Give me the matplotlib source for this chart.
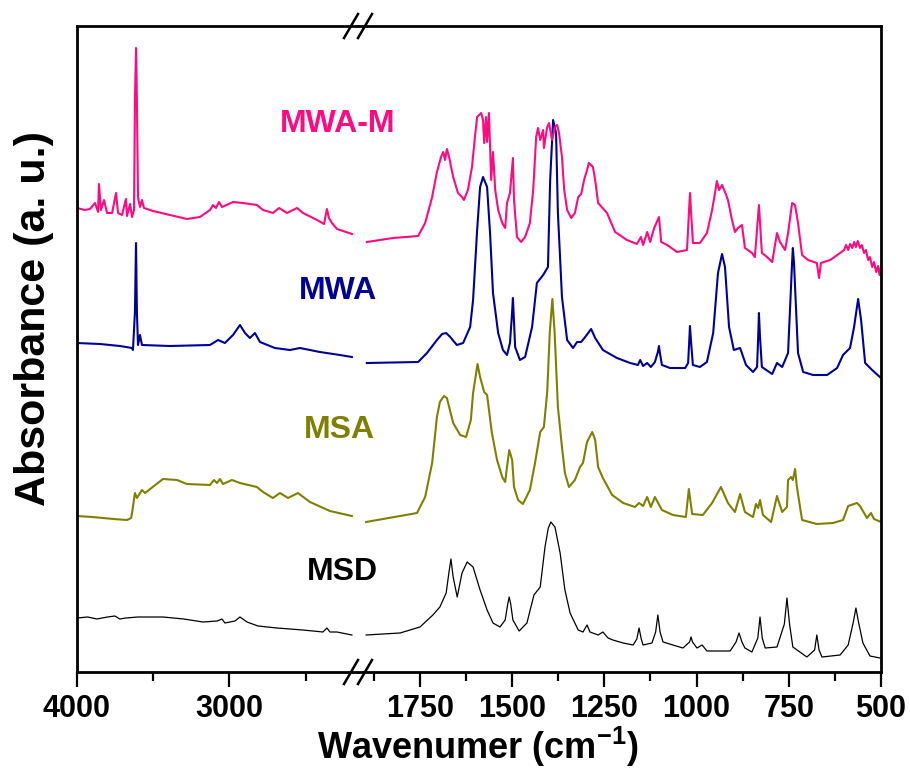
import matplotlib
matplotlib.use("Agg")
import matplotlib.pyplot as plt
from matplotlib.lines import Line2D

plt.rcParams['font.family'] = ['Liberation Sans', 'DejaVu Sans']
plt.rcParams['font.weight'] = 'bold'
plt.rcParams['mathtext.fontset'] = 'custom'
plt.rcParams['mathtext.bf'] = 'Liberation Sans:bold'
plt.rcParams['mathtext.rm'] = 'Liberation Sans:bold'

# ---------------- data (wavenumber cm-1, absorbance a.u. with offsets) ----------------
msd_left_wn = [4000, 3930, 3870, 3800, 3751, 3720, 3680, 3600, 3436, 3300, 3174, 3080, 3049, 3030,
               2964, 2931, 2885, 2813, 2689, 2518, 2387, 2361, 2341, 2295, 2197]
msd_left_ab = [0.54, 0.55, 0.53, 0.55, 0.56, 0.53, 0.54, 0.55, 0.55, 0.53, 0.50, 0.51, 0.53, 0.49,
               0.51, 0.55, 0.50, 0.46, 0.44, 0.42, 0.40, 0.44, 0.40, 0.40, 0.37]
msd_right_wn = [1896, 1804, 1750, 1715, 1696, 1679, 1672, 1666, 1660, 1649, 1636, 1622, 1606, 1587,
                1568, 1552, 1533, 1519, 1512, 1508, 1504, 1498, 1481, 1460, 1441, 1424, 1411, 1402,
                1395, 1384, 1370, 1357, 1343, 1321, 1308, 1297, 1289, 1267, 1254, 1240, 1227, 1199,
                1172, 1162, 1156, 1150, 1145, 1121, 1111, 1105, 1099, 1091, 1064, 1037, 1019, 1015,
                1011, 999, 985, 972, 909, 893, 885, 877, 869, 850, 834, 828, 822, 814, 782, 762,
                755, 748, 739, 701, 680, 674, 668, 660, 611, 589, 575, 568, 561, 549, 530, 503]
msd_right_ab = [0.37, 0.39, 0.45, 0.57, 0.65, 0.79, 0.98, 1.13, 0.95, 0.75, 0.99, 1.10, 1.05, 0.82,
                0.62, 0.49, 0.45, 0.52, 0.68, 0.75, 0.68, 0.52, 0.41, 0.49, 0.77, 0.85, 1.25, 1.44,
                1.50, 1.45, 1.19, 0.82, 0.59, 0.42, 0.40, 0.47, 0.40, 0.37, 0.40, 0.34, 0.32, 0.29,
                0.27, 0.33, 0.44, 0.33, 0.27, 0.29, 0.40, 0.57, 0.40, 0.30, 0.27, 0.24, 0.30, 0.35,
                0.30, 0.24, 0.27, 0.21, 0.21, 0.30, 0.39, 0.30, 0.24, 0.20, 0.34, 0.55, 0.34, 0.24,
                0.25, 0.48, 0.74, 0.48, 0.25, 0.15, 0.22, 0.37, 0.22, 0.15, 0.17, 0.27, 0.50, 0.64,
                0.50, 0.29, 0.16, 0.14]

msa_left_wn = [4000, 3900, 3830, 3760, 3672, 3645, 3639, 3620, 3607, 3574, 3554, 3436, 3344, 3279,
               3128, 3102, 3082, 3062, 3043, 2984, 2931, 2820, 2780, 2715, 2669, 2616, 2551, 2472,
               2341, 2197]
msa_left_ab = [1.56, 1.55, 1.54, 1.53, 1.52, 1.54, 1.59, 1.79, 1.74, 1.82, 1.79, 1.93, 1.92, 1.88,
               1.87, 1.92, 1.89, 1.93, 1.88, 1.92, 1.89, 1.85, 1.80, 1.74, 1.79, 1.74, 1.79, 1.70,
               1.61, 1.56]
msa_right_wn = [1896, 1758, 1736, 1717, 1704, 1696, 1685, 1677, 1660, 1641, 1625, 1612, 1606, 1598,
                1594, 1587, 1576, 1568, 1555, 1541, 1527, 1519, 1514, 1508, 1500, 1495, 1484, 1471,
                1452, 1438, 1424, 1414, 1405, 1398, 1391, 1385, 1376, 1365, 1357, 1346, 1330, 1316,
                1308, 1297, 1283, 1275, 1267, 1254, 1229, 1199, 1167, 1156, 1145, 1134, 1124, 1113,
                1094, 1064, 1029, 1021, 1012, 983, 958, 934, 915, 896, 882, 869, 847, 839, 833, 828,
                820, 798, 782, 768, 755, 752, 744, 739, 733, 728, 714, 674, 630, 603, 589, 565, 557,
                538, 527, 519, 500]
msa_right_ab = [1.50, 1.59, 1.75, 2.09, 2.55, 2.70, 2.76, 2.74, 2.49, 2.37, 2.35, 2.52, 2.79, 2.98,
                3.08, 2.95, 2.80, 2.77, 2.39, 2.12, 1.95, 1.90, 2.05, 2.22, 2.12, 1.85, 1.72, 1.68,
                1.82, 2.09, 2.40, 2.45, 2.80, 3.40, 3.73, 3.40, 2.65, 2.25, 1.99, 1.85, 1.92, 2.05,
                2.09, 2.30, 2.40, 2.32, 2.05, 1.94, 1.77, 1.69, 1.65, 1.69, 1.66, 1.75, 1.65, 1.75,
                1.62, 1.57, 1.55, 1.83, 1.58, 1.57, 1.69, 1.85, 1.69, 1.60, 1.78, 1.60, 1.55, 1.68,
                1.64, 1.72, 1.57, 1.50, 1.76, 1.60, 1.65, 1.92, 1.95, 1.92, 2.03, 1.85, 1.52, 1.48,
                1.49, 1.52, 1.66, 1.69, 1.66, 1.54, 1.59, 1.53, 1.50]

mwa_left_wn = [4000, 3850, 3718, 3640, 3633, 3620, 3613, 3607, 3600, 3587, 3574, 3390, 3128, 3075,
               3030, 2977, 2931, 2898, 2866, 2833, 2800, 2702, 2603, 2538, 2407, 2276, 2197]
mwa_left_ab = [3.29, 3.28, 3.26, 3.24, 3.22, 3.60, 4.29, 3.60, 3.27, 3.37, 3.27, 3.26, 3.27, 3.32,
               3.29, 3.37, 3.47, 3.39, 3.34, 3.39, 3.30, 3.24, 3.22, 3.24, 3.20, 3.17, 3.15]
mwa_right_wn = [1894, 1755, 1731, 1704, 1690, 1679, 1668, 1650, 1633, 1614, 1606, 1595, 1587, 1579,
                1568, 1560, 1552, 1538, 1525, 1514, 1506, 1501, 1498, 1495, 1492, 1479, 1465, 1446,
                1433, 1416, 1403, 1397, 1389, 1381, 1376, 1365, 1351, 1335, 1324, 1313, 1302, 1286,
                1275, 1254, 1216, 1180, 1159, 1153, 1145, 1134, 1124, 1113, 1105, 1102, 1099, 1094,
                1072, 1031, 1023, 1020, 1018, 1015, 1010, 991, 972, 955, 942, 931, 923, 912, 899,
                882, 866, 847, 836, 833, 831, 828, 823, 795, 782, 768, 752, 744, 741, 739, 736, 733,
                725, 711, 684, 646, 619, 603, 584, 573, 562, 554, 543, 524, 503]
mwa_right_ab = [3.09, 3.10, 3.19, 3.32, 3.38, 3.39, 3.35, 3.27, 3.29, 3.45, 3.72, 4.42, 4.85, 4.95,
                4.85, 4.39, 3.79, 3.39, 3.22, 3.17, 3.29, 3.55, 3.74, 3.50, 3.25, 3.12, 3.15, 3.45,
                3.89, 3.97, 4.05, 4.92, 5.52, 5.39, 4.59, 3.75, 3.32, 3.24, 3.30, 3.30, 3.35, 3.43,
                3.34, 3.22, 3.14, 3.09, 3.07, 3.12, 3.06, 3.09, 3.05, 3.10, 3.20, 3.26, 3.18, 3.07,
                3.04, 3.04, 3.09, 3.30, 3.46, 3.30, 3.07, 3.05, 3.10, 3.39, 3.99, 4.18, 4.05, 3.45,
                3.22, 3.24, 3.07, 3.00, 3.05, 3.35, 3.59, 3.35, 3.05, 2.98, 3.09, 3.05, 3.19, 3.85,
                4.10, 4.24, 4.10, 3.85, 3.19, 3.00, 2.97, 2.97, 3.04, 3.17, 3.24, 3.45, 3.73, 3.52,
                3.09, 3.02, 2.95]

mwam_left_wn = [4000, 3950, 3915, 3882, 3862, 3856, 3843, 3823, 3803, 3770, 3744, 3731, 3705, 3679,
                3672, 3652, 3639, 3626, 3620, 3613, 3607, 3600, 3587, 3574, 3561, 3502, 3390, 3279,
                3194, 3128, 3108, 3089, 3069, 3049, 2977, 2912, 2820, 2780, 2715, 2675, 2623, 2557,
                2518, 2426, 2380, 2361, 2348, 2328, 2295, 2197]
mwam_left_ab = [4.64, 4.62, 4.63, 4.69, 4.60, 4.88, 4.62, 4.72, 4.59, 4.59, 4.79, 4.59, 4.57, 4.73,
                4.56, 4.68, 4.55, 4.62, 5.72, 6.24, 5.72, 4.75, 4.65, 4.72, 4.64, 4.61, 4.57, 4.53,
                4.55, 4.62, 4.67, 4.64, 4.70, 4.65, 4.70, 4.69, 4.67, 4.62, 4.59, 4.64, 4.59, 4.64,
                4.59, 4.52, 4.48, 4.63, 4.54, 4.49, 4.43, 4.38]
mwam_right_wn = [1894, 1823, 1755, 1736, 1717, 1704, 1693, 1687, 1682, 1677, 1671, 1660, 1647, 1636,
                 1631, 1620, 1609, 1601, 1595, 1584, 1579, 1576, 1571, 1568, 1563, 1557, 1552, 1546,
                 1538, 1527, 1519, 1514, 1506, 1498, 1495, 1487, 1476, 1465, 1452, 1443, 1435, 1430,
                 1424, 1416, 1414, 1405, 1400, 1392, 1384, 1378, 1373, 1365, 1359, 1351, 1340, 1330,
                 1321, 1313, 1305, 1297, 1292, 1281, 1275, 1267, 1243, 1221, 1189, 1162, 1151, 1145,
                 1134, 1126, 1115, 1102, 1096, 1080, 1053, 1026, 1018, 1010, 991, 972, 958, 950, 945,
                 939, 931, 923, 915, 904, 896, 888, 877, 869, 850, 842, 831, 823, 809, 795, 782, 774,
                 760, 752, 741, 733, 725, 714, 698, 674, 668, 663, 638, 611, 600, 595, 589, 584, 578,
                 573, 568, 563, 557, 552, 546, 541, 535, 530, 524, 519, 513, 508, 504, 500]
mwam_right_ab = [4.30, 4.34, 4.36, 4.49, 4.75, 5.00, 5.15, 5.20, 5.12, 5.23, 5.15, 4.95, 4.79, 4.75,
                 4.72, 4.82, 5.05, 5.35, 5.55, 5.59, 5.52, 5.29, 5.55, 5.30, 5.59, 4.92, 5.20, 4.82,
                 4.62, 4.49, 4.44, 4.69, 4.79, 5.14, 4.72, 4.35, 4.30, 4.35, 4.49, 4.82, 5.35, 5.44,
                 5.32, 5.42, 5.24, 5.45, 5.49, 5.32, 5.45, 5.47, 5.39, 5.15, 4.82, 4.62, 4.54, 4.59,
                 4.75, 4.78, 4.92, 5.02, 5.09, 5.05, 4.92, 4.69, 4.59, 4.40, 4.32, 4.28, 4.35, 4.27,
                 4.40, 4.30, 4.44, 4.55, 4.30, 4.27, 4.20, 4.22, 4.79, 4.29, 4.29, 4.39, 4.62, 4.79,
                 4.91, 4.82, 4.87, 4.80, 4.72, 4.52, 4.40, 4.44, 4.47, 4.24, 4.19, 4.15, 4.67, 4.19,
                 4.15, 4.10, 4.39, 4.30, 4.22, 4.39, 4.69, 4.67, 4.49, 4.17, 4.12, 4.09, 3.94, 4.09,
                 4.12, 4.19, 4.22, 4.27, 4.22, 4.28, 4.24, 4.30, 4.25, 4.31, 4.24, 4.27, 4.19, 4.22,
                 4.12, 4.15, 4.05, 4.10, 4.00, 4.06, 3.97, 4.05]

series_names = ['MSD', 'MSA', 'MWA', 'MWA-M']
series_colors = ['#000000', '#808000', '#000099', '#FF0A80']

left_ticks = [4000, 3000]
left_minor = [3500, 2500]
right_ticks = [1750, 1500, 1250, 1000, 750, 500]
right_minor = [1875, 1625, 1375, 1125, 875, 625]

# ---------------- figure ----------------
W, H = 910, 769
fig = plt.figure(figsize=(W / 100, H / 100), dpi=100)

def fx(px):
    return px / W

def fy(py):
    return 1 - py / H

x_left, x_break, x_right = 77, 358, 881
y_top, y_bot = 26, 672
axL = fig.add_axes([fx(x_left), fy(y_bot), fx(x_break - x_left), fy(y_top) - fy(y_bot)])
axR = fig.add_axes([fx(x_break), fy(y_bot), fx(x_right - x_break), fy(y_top) - fy(y_bot)])

left_data = [(msd_left_wn, msd_left_ab), (msa_left_wn, msa_left_ab),
             (mwa_left_wn, mwa_left_ab), (mwam_left_wn, mwam_left_ab)]
right_data = [(msd_right_wn, msd_right_ab), (msa_right_wn, msa_right_ab),
              (mwa_right_wn, mwa_right_ab), (mwam_right_wn, mwam_right_ab)]

for i, c in enumerate(series_colors):
    lw = 0.9 if i == 0 else 1.5
    axL.plot(*left_data[i], color=c, lw=lw)
    axR.plot(*right_data[i], color=c, lw=lw)

ylim = (0, 6.46)
axL.set_xlim(4000, 2157)
axR.set_xlim(1918, 500)
for ax in (axL, axR):
    ax.set_ylim(*ylim)
    ax.set_yticks([])
    for s in ax.spines.values():
        s.set_linewidth(2.0)
    ax.tick_params(axis='x', which='major', direction='out', length=11, width=1.6,
                   labelsize=22, pad=5, top=False)
    ax.tick_params(axis='x', which='minor', direction='out', length=6.5, width=1.6, top=False)
axL.spines['right'].set_visible(False)
axR.spines['left'].set_visible(False)
axL.set_xticks(left_ticks)
axL.set_xticks(left_minor, minor=True)
axR.set_xticks(right_ticks)
axR.set_xticks(right_minor, minor=True)
for ax in (axL, axR):
    for lab in ax.get_xticklabels():
        lab.set_fontweight('bold')

# break marks
for yc in (y_top, y_bot):
    for xc in (351, 365):
        fig.add_artist(Line2D([fx(xc - 7), fx(xc + 7)], [fy(yc + 12), fy(yc - 12)],
                              color='black', lw=1.8, transform=fig.transFigure))

# series labels
label_pos = [(342, 572), (339, 430), (338, 291), (338, 124)]
for name, c, (px, py) in zip(series_names, series_colors, label_pos):
    fig.text(fx(px), fy(py), name, color=c, fontsize=23, fontweight='bold',
             ha='center', va='center')

fig.text(fx(478), fy(759), r'Wavenumer (cm$^{\mathbf{-1}}$)', fontsize=26, fontweight='bold',
         ha='center', va='baseline')
fig.text(fx(34), fy(318), 'Absorbance (a. u.)', fontsize=31, fontweight='bold',
         rotation=90, ha='center', va='center')

fig.savefig('out.png', dpi=100)
